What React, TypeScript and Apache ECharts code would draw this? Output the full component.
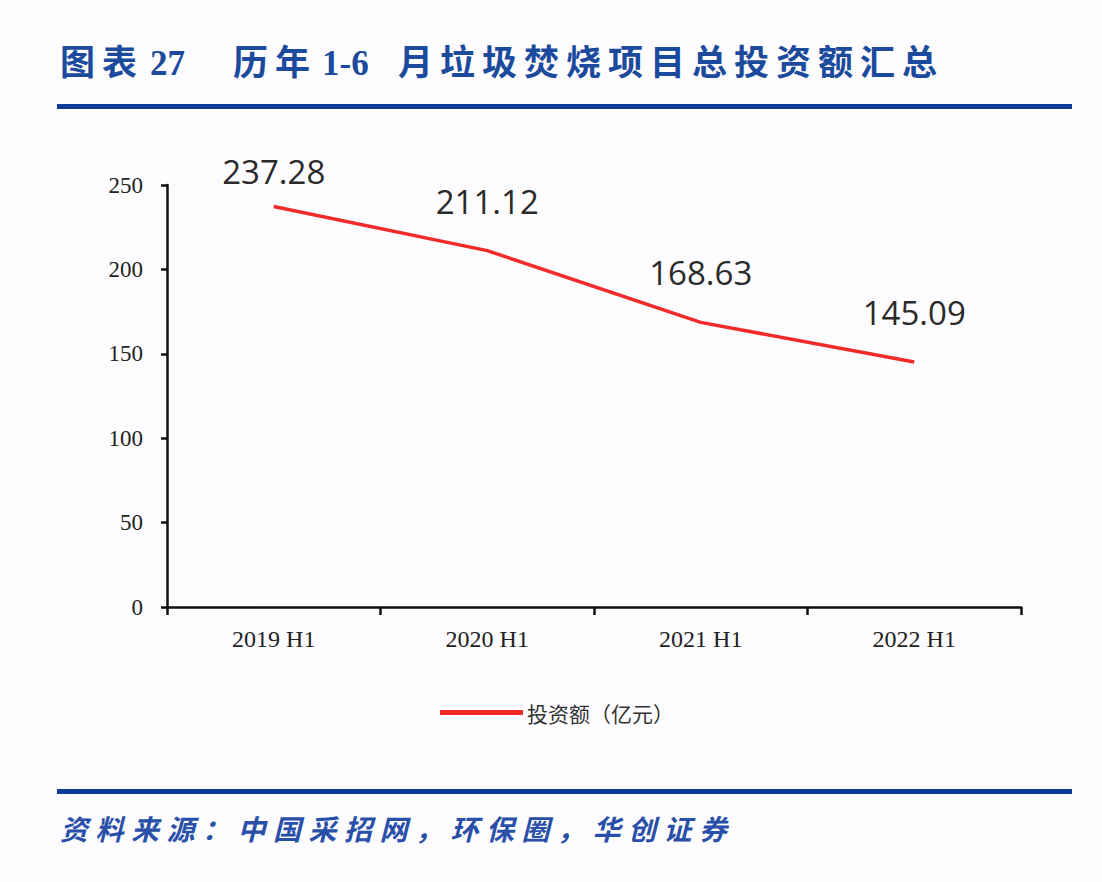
import React, { useEffect, useRef } from 'react';
import * as echarts from 'echarts';

const categories = ['2019 H1', '2020 H1', '2021 H1', '2022 H1'];
const investment = [237.28, 211.12, 168.63, 145.09];
const seriesName = '投资额（亿元）';
const titleHead = ['图', '表', '27'];
const titleYears = ['历', '年', '1-6'];
const titleRest = '月垃圾焚烧项目总投资额汇总';
const sourceText = '资料来源：中国采招网，环保圈，华创证券';

const BLUE = '#1c4a9c';
const TITLE_FONT = 'bold 35px "Liberation Serif", "Noto Sans CJK SC", serif';

const App: React.FC = () => {
  const chartRef = useRef<HTMLDivElement>(null);

  useEffect(() => {
    if (!chartRef.current) return;
    const myChart = echarts.init(chartRef.current, undefined, { renderer: 'svg' });

    const titleText = (text: string, x: number) => ({
      type: 'text' as const,
      left: x,
      top: 46,
      style: { text, font: TITLE_FONT, fill: BLUE },
    });

    const titleParts: any[] = [
      titleText(titleHead[0], 60),
      titleText(titleHead[1], 102),
      titleText(titleHead[2], 150),
      titleText(titleYears[0], 233),
      titleText(titleYears[1], 275),
      titleText(titleYears[2], 322),
      ...titleRest.split('').map((c, i) => titleText(c, 398 + i * 42)),
    ];

    const sourceParts: any[] = sourceText.split('').map((c, i) => ({
      type: 'text',
      left: 60 + i * 35.5,
      top: 814,
      style: {
        text: c,
        font: 'italic bold 28px "Noto Sans CJK SC", sans-serif',
        fill: '#2a4fa8',
      },
    }));

    // first label sits closer to the line (it would run into the top otherwise)
    const lineData = investment.map((v, i) =>
      i === 0 ? { value: v, label: { distance: 18 } } : v
    );

    const option: echarts.EChartsOption = {
      animation: false,
      backgroundColor: '#fdfdff',
      grid: { left: 167, right: 81, top: 185, bottom: 275 },
      graphic: [
        ...titleParts,
        { type: 'rect', shape: { x: 57, y: 104, width: 1015, height: 5 }, style: { fill: '#0d3c96' } },
        { type: 'rect', shape: { x: 57, y: 789, width: 1015, height: 5 }, style: { fill: '#0d3c96' } },
        ...sourceParts,
      ],
      legend: {
        left: 435,
        top: 697,
        icon: 'rect',
        itemWidth: 83,
        itemHeight: 5,
        itemGap: 6,
        textStyle: { fontSize: 21, color: '#333', fontFamily: '"Noto Sans CJK SC", sans-serif', padding: [0, 0, 0, -1] },
        data: [seriesName],
      },
      xAxis: {
        type: 'category',
        data: categories,
        axisLine: { lineStyle: { color: '#111', width: 2.5 } },
        axisTick: { show: true, length: 8, lineStyle: { color: '#111', width: 2.5 } },
        axisLabel: {
          color: '#222',
          fontSize: 24,
          fontFamily: '"Liberation Serif", serif',
          margin: 20,
        },
      },
      yAxis: {
        type: 'value',
        min: 0,
        max: 250,
        interval: 50,
        splitLine: { show: false },
        axisLine: { show: true, lineStyle: { color: '#111', width: 2.5 } },
        axisTick: { show: true, length: 6, lineStyle: { color: '#111', width: 2.5 } },
        axisLabel: {
          color: '#222',
          fontSize: 23,
          fontFamily: '"Liberation Serif", serif',
          margin: 24,
        },
      },
      series: [
        {
          name: seriesName,
          type: 'line',
          data: lineData,
          symbol: 'circle',
          symbolSize: 0,
          showSymbol: true,
          lineStyle: { color: '#f22a2a', width: 3.5 },
          itemStyle: { color: '#f22a2a' },
          label: {
            show: true,
            position: 'top',
            distance: 33,
            fontSize: 33,
            color: '#2a2a2a',
            fontFamily: '"Open Sans", "DejaVu Sans", sans-serif',
            formatter: (p: any) => Number(p.value).toFixed(2),
          },
        },
      ],
    };

    myChart.setOption(option);

    return () => {
      myChart.dispose();
    };
  }, []);

  return (
    <div
      ref={chartRef}
      style={{ position: 'fixed', left: 0, top: 0, width: '1102px', height: '882px' }}
    />
  );
};

export default App;
